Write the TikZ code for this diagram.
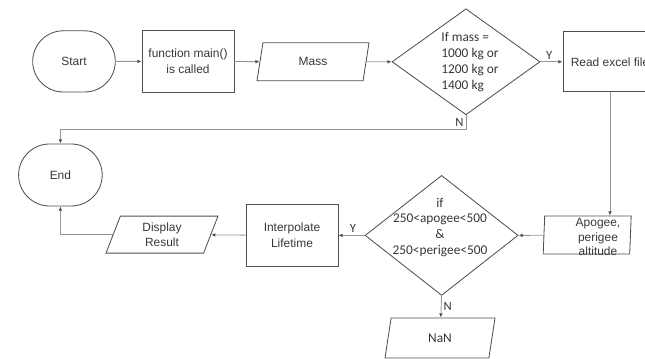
\documentclass[tikz,border=0pt]{standalone}
\usepackage{fontspec}
\setmainfont{Liberation Sans}
\newfontfamily\calib{Carlito}
\usetikzlibrary{arrows.meta, shapes.geometric, shapes.misc}
\definecolor{lnline}{RGB}{150,150,150}
\definecolor{shline}{RGB}{80,80,80}
\definecolor{txtc}{RGB}{55,55,55}

\begin{document}
\begin{tikzpicture}[
  term/.style={rounded rectangle,draw=shline,line width=0.6pt,text=txtc,
               minimum width=2.3cm,minimum height=1.53cm,font=\fontsize{8.5}{11}\selectfont},
  proc/.style={rectangle,draw=shline,line width=0.6pt,text=txtc,align=center,
               minimum width=2.3cm,minimum height=1.53cm,font=\fontsize{8.5}{11}\selectfont},
  io/.style={trapezium,trapezium left angle=62,trapezium right angle=118,
             trapezium stretches body,draw=shline,line width=0.6pt,text=txtc,
             minimum width=2.8cm,minimum height=0.95cm,inner sep=1pt,align=center,
             font=\fontsize{8.5}{11}\selectfont},
  dec/.style={diamond,draw=shline,line width=0.6pt,inner sep=0pt},
  dtxt/.style={font=\calib\fontsize{9.5}{11.3}\selectfont,text=txtc},
  arr/.style={-{Latex[length=3pt,width=2.6pt,color=shline]},lnline,line width=0.6pt},
  yn/.style={font=\calib\fontsize{9}{10}\selectfont,text=txtc,inner sep=1.5pt}
]
\clip (0,0) rectangle (16.125,8.975);

% top row
\node[term] (start) at (1.85,7.44) {Start};
\node[proc] (call)  at (4.70,7.44) {function main()\\is called};
\node[io]   (mass)  at (7.825,7.43) {Mass};
\node[dec, minimum width=3.7cm, minimum height=2.65cm] (chk1) at (11.65,7.43) {};
\node[dtxt, align=left] (chk1txt) at (11.75,7.42) {If mass =\\1000 kg or\\1200 kg or\\1400 kg};
\node[proc, minimum width=2.35cm, minimum height=1.5cm] (read) at (15.25,7.43) {Read excel file};

% bottom row
\node[io, minimum width=2.2cm] (apogee) at (14.68,3.1) {};
\node[align=center, font=\fontsize{8.5}{10.5}\selectfont, text=txtc] (apogeetxt) at (14.95,3.05) {Apogee,\\perigee\\altitude};
\node[dec, minimum width=3.825cm, minimum height=3.0cm] (chk2) at (11.04,3.09) {};
\node[dtxt, align=center] (chk2txt) at (11.0,3.29) {if\\250<apogee<500\\\&\\250<perigee<500};
\node[io, font=\calib\fontsize{9.5}{11}\selectfont, minimum width=2.75cm, minimum height=1.0cm] (nan) at (11.0,0.525) {NaN};
\node[proc] (interp) at (7.3,3.09) {Interpolate\\Lifetime};
\node[io, minimum height=0.925cm] (disp) at (4.05,3.11) {Display\\Result};
\node[term, minimum width=2.325cm, minimum height=1.55cm] (end) at (1.51,4.6) {End};

% connectors
\draw[arr] (start) -- (call);
\draw[arr] (call) -- (mass);
\draw[arr] (mass) -- (chk1.west);
\draw[arr] (chk1.east) -- node[yn, above, pos=0.4] {Y} (read);
\draw[arr] (chk1.south) -- node[yn, left, pos=0.5] {N} ++(0,-0.35) -| (end.north);
\draw[arr] (read.south) -- (read.south |- apogee.north);
\draw[arr] (apogee) -- (chk2.east);
\draw[arr] (chk2.west) -- node[yn, above, pos=0.45] {Y} (interp);
\draw[arr] (chk2.south) -- node[yn, right, pos=0.5] {N} (nan);
\draw[arr] (interp) -- (disp);
\draw[arr] (disp) -| (end.south);
\end{tikzpicture}
\end{document}
